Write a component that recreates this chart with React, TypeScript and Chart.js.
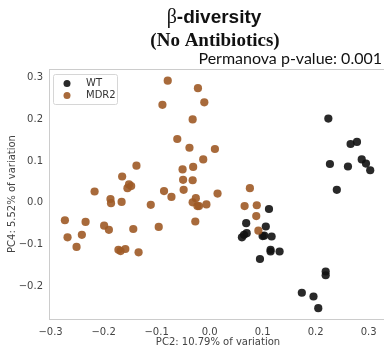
import { useEffect, useRef } from "react";
import { Chart, registerables } from "chart.js";
Chart.register(...registerables);

const seriesNames = ["WT", "MDR2"];
const seriesColors = ["rgba(18,18,18,0.9)", "rgba(158,90,38,0.9)"];

const wtX = [0.224, 0.266, 0.278, 0.227, 0.261, 0.287, 0.295, 0.303, 0.240, 0.112, 0.069, 0.106, 0.070, 0.065, 0.061, 0.100, 0.103, 0.117, 0.115, 0.115, 0.132, 0.095, 0.219, 0.219, 0.174, 0.196, 0.205];
const wtY = [0.202, 0.141, 0.146, 0.093, 0.087, 0.104, 0.094, 0.078, 0.031, -0.015, -0.049, -0.057, -0.073, -0.077, -0.083, -0.080, -0.079, -0.081, -0.113, -0.117, -0.117, -0.135, -0.165, -0.174, -0.216, -0.225, -0.253];

const mdr2X = [-0.079, -0.089, -0.022, -0.010, -0.032, -0.061, -0.038, 0.010, -0.012, -0.138, -0.051, -0.031, -0.165, -0.050, -0.032, -0.152, -0.148, -0.155, -0.217, -0.086, -0.049, -0.072, -0.187, -0.186, -0.166, -0.111, -0.026, -0.032, -0.023, -0.020, -0.006, 0.015, 0.076, 0.066, 0.089, 0.088, 0.092, -0.027, -0.273, -0.268, -0.234, -0.241, -0.251, -0.199, -0.190, -0.144, -0.096, -0.172, -0.168, -0.159, -0.134];
const mdr2Y = [0.293, 0.235, 0.275, 0.241, 0.200, 0.153, 0.132, 0.129, 0.104, 0.089, 0.080, 0.086, 0.063, 0.055, 0.054, 0.044, 0.040, 0.035, 0.027, 0.028, 0.031, 0.014, 0.009, -0.001, 0.002, -0.005, 0.011, 0.001, -0.008, -0.008, -0.004, 0.022, 0.035, -0.008, -0.006, -0.032, -0.067, -0.045, -0.042, -0.083, -0.046, -0.077, -0.106, -0.055, -0.065, -0.063, -0.058, -0.113, -0.116, -0.111, -0.119];

const xTicks = [-0.3, -0.2, -0.1, 0.0, 0.1, 0.2, 0.3];
const yTicks = [-0.2, -0.1, 0.0, 0.1, 0.2, 0.3];
const xRange = [-0.303, 0.329];
const yRange = [-0.279, 0.321];

const titleGreek = "β";
const titleRest = "-diversity";
const subtitle = "(No Antibiotics)";
const note = "Permanova p-value: 0.001";
const xTitle = "PC2: 10.79% of variation";
const yTitle = "PC4: 5.52% of variation";

const fmt = (v: number) => v.toFixed(1).replace("-", "\u2212");

const zeroPad = (s: any) => {
  s.paddingLeft = 0;
  s.paddingRight = 0;
  s.paddingTop = 0;
  s.paddingBottom = 0;
};

const textPlugin = {
  id: "texts",
  afterDraw(chart: any) {
    const ctx = chart.ctx;
    const ca = chart.chartArea;
    ctx.save();
    ctx.strokeStyle = "#cccccc";
    ctx.lineWidth = 1;
    ctx.beginPath();
    ctx.moveTo(ca.left, ca.top + 0.5);
    ctx.lineTo(ca.right, ca.top + 0.5);
    ctx.stroke();

    const cx = 214;
    ctx.fillStyle = "#111";
    ctx.textBaseline = "alphabetic";
    ctx.textAlign = "left";
    const gFont = "20px 'Liberation Serif', serif";
    const rFont = "bold 19px 'Liberation Sans', Arial, sans-serif";
    ctx.font = gFont;
    const gw = ctx.measureText(titleGreek).width;
    ctx.font = rFont;
    const rw = ctx.measureText(titleRest).width;
    const x0 = cx - (gw + rw) / 2;
    ctx.font = gFont;
    ctx.fillText(titleGreek, x0, 23);
    ctx.font = rFont;
    ctx.fillText(titleRest, x0 + gw, 23);

    ctx.textAlign = "center";
    ctx.font = "bold 19px 'Liberation Serif', 'Times New Roman', serif";
    ctx.fillText(subtitle, cx + 1, 46);

    ctx.textAlign = "right";
    ctx.font = "16px Lato, 'Open Sans', sans-serif";
    ctx.fillText(note, 382, 64);

    ctx.fillStyle = "#444";
    ctx.font = "10px 'DejaVu Sans', sans-serif";
    ctx.textAlign = "center";
    ctx.fillText(xTitle, 218, 345);
    ctx.save();
    ctx.translate(15, 194);
    ctx.rotate(-Math.PI / 2);
    ctx.fillText(yTitle, 0, 0);
    ctx.restore();

    const lx = 53.5, ly = 74.5, lw = 64, lh = 30;
    ctx.fillStyle = "rgba(255,255,255,0.8)";
    ctx.strokeStyle = "#d6d6d6";
    ctx.lineWidth = 1;
    ctx.beginPath();
    ctx.roundRect(lx, ly, lw, lh, 2);
    ctx.fill();
    ctx.stroke();
    ctx.textAlign = "left";
    ctx.textBaseline = "middle";
    ctx.font = "10px 'DejaVu Sans', sans-serif";
    chart.data.datasets.forEach((ds: any, i: number) => {
      const yy = 83.5 + i * 12;
      ctx.fillStyle = ds.backgroundColor;
      ctx.beginPath();
      ctx.arc(67, yy, 3.5, 0, Math.PI * 2);
      ctx.fill();
      ctx.fillStyle = "#333";
      ctx.fillText(ds.label, 86, yy);
    });
    ctx.restore();
  },
};

export default function App() {
  const ref = useRef<HTMLCanvasElement>(null);
  useEffect(() => {
    document.body.style.margin = "0";
    const toPts = (xs: number[], ys: number[]) => xs.map((x, i) => ({ x, y: ys[i] }));
    const chart = new Chart(ref.current!, {
      type: "scatter",
      data: {
        datasets: [
          {
            label: seriesNames[0],
            data: toPts(wtX, wtY),
            backgroundColor: seriesColors[0],
            borderWidth: 0,
            pointRadius: 4.1,
            order: 1,
          },
          {
            label: seriesNames[1],
            data: toPts(mdr2X, mdr2Y),
            backgroundColor: seriesColors[1],
            borderWidth: 0,
            pointRadius: 4.1,
            order: 0,
          },
        ],
      },
      options: {
        responsive: false,
        animation: false,
        layout: { autoPadding: false, padding: { top: 69, left: 0, right: 0, bottom: 0 } },
        plugins: { legend: { display: false }, tooltip: { enabled: false }, title: { display: false } },
        scales: {
          x: {
            type: "linear",
            min: xRange[0],
            max: xRange[1],
            afterBuildTicks: (s: any) => { s.ticks = xTicks.map((v) => ({ value: v })); },
            afterFit: (s: any) => { s.height = 35; zeroPad(s); },
            grid: { display: false, drawTicks: false },
            border: { display: true, color: "#cccccc", width: 1 },
            ticks: {
              callback: (v: any) => fmt(Number(v)),
              color: "#444",
              padding: 7,
              maxRotation: 0,
              font: { family: "'DejaVu Sans', sans-serif", size: 10 },
            },
          },
          y: {
            type: "linear",
            min: yRange[0],
            max: yRange[1],
            afterBuildTicks: (s: any) => { s.ticks = yTicks.map((v) => ({ value: v })); },
            afterFit: (s: any) => { s.width = 49; zeroPad(s); },
            grid: { display: false, drawTicks: false },
            border: { display: true, color: "#cccccc", width: 1 },
            ticks: {
              callback: (v: any) => fmt(Number(v)),
              color: "#444",
              padding: 6,
              font: { family: "'DejaVu Sans', sans-serif", size: 10 },
            },
          },
        },
      },
      plugins: [textPlugin],
    });
    return () => chart.destroy();
  }, []);
  return <canvas ref={ref} width={384} height={354} style={{ display: "block" }} />;
}
